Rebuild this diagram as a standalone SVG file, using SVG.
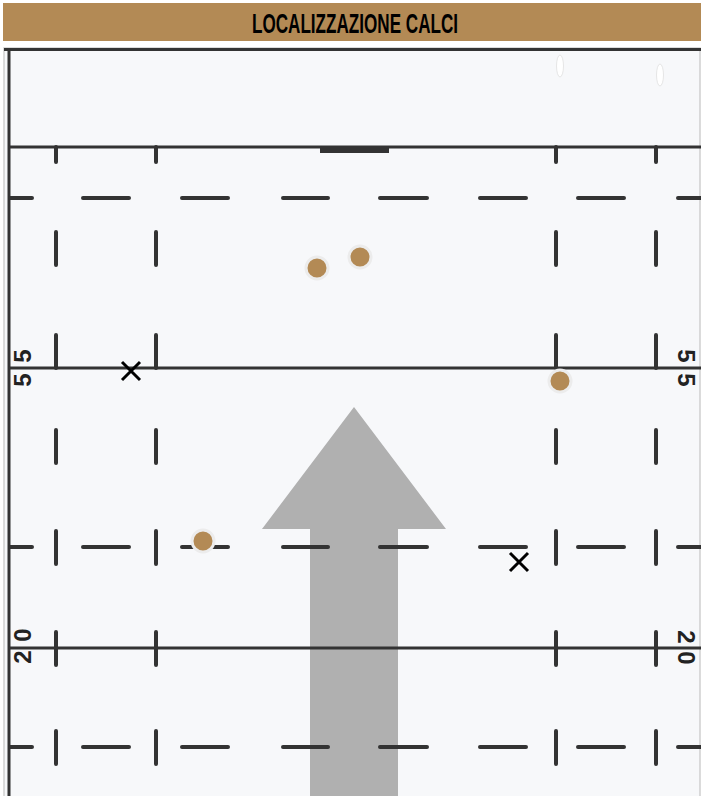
<svg xmlns="http://www.w3.org/2000/svg" width="701" height="796" viewBox="0 0 701 796">
<style>
.line{stroke:#333;stroke-width:3;fill:none}
.dash{stroke:#333;stroke-width:4;stroke-linecap:round;fill:none}
.num{font-family:"Liberation Sans",Arial,sans-serif;font-weight:bold;font-size:24px;fill:#222;text-anchor:middle}
.ball{fill:#b38a55;stroke:#ececec;stroke-width:3}
.miss{stroke:#000;stroke-width:3;stroke-linecap:butt}
</style>
<defs>
<g id="dashrow">
<path class="dash" d="M10 0H32M83 0H129M182 0H228M283 0H328M380 0H427M480 0H526M578 0H624M678 0H701"/>
</g>
<g id="vticks">
<path class="dash" d="M56 0V33M156 0V33M556 0V33M656 0V33"/>
</g>
</defs>
<rect width="701" height="796" fill="#ffffff"/>
<g id="title">
<rect x="3" y="3" width="698" height="38" fill="#b38a55"/>
<text x="355" y="33" text-anchor="middle" font-family="Liberation Sans,Arial,sans-serif" font-weight="bold" font-size="27" textLength="206" lengthAdjust="spacingAndGlyphs" fill="#000">LOCALIZZAZIONE CALCI</text>
</g>
<g id="field">
<rect x="4" y="48" width="696" height="750" fill="#f7f8fa" stroke="#cfcfcf" stroke-width="1.5"/>
<line class="line" x1="4" y1="49.5" x2="701" y2="49.5" stroke-width="3"/>
<line class="line" x1="9" y1="48" x2="9" y2="796"/>
<ellipse cx="560" cy="66" rx="3.5" ry="11" fill="#ffffff" stroke="#e6e6e6" stroke-width="1"/>
<ellipse cx="660" cy="75" rx="3.5" ry="11" fill="#ffffff" stroke="#e6e6e6" stroke-width="1"/>
</g>
<g id="arrow">
<polygon points="354,407 446,529 398,529 398,796 310,796 310,529 262,529" fill="#b0b0b0"/>
</g>
<g id="connectors">
<line class="line" x1="9" y1="147" x2="701" y2="147"/>
<rect x="320" y="147" width="69" height="6" fill="#333"/>
<line class="line" x1="9" y1="368" x2="701" y2="368"/>
<line class="line" x1="9" y1="648" x2="701" y2="648"/>
<path class="dash" d="M56 147V162M156 147V162M556 147V162M656 147V162"/>
<use href="#dashrow" y="198"/>
<use href="#vticks" y="232"/>
<use href="#vticks" y="335"/>
<use href="#vticks" y="430"/>
<use href="#dashrow" y="547"/>
<use href="#vticks" y="531"/>
<use href="#vticks" y="632"/>
<use href="#dashrow" y="747"/>
<use href="#vticks" y="731"/>
</g>
<g id="labels">
<text class="num" transform="translate(31,356) rotate(-90)">5</text>
<text class="num" transform="translate(31,380) rotate(-90)">5</text>
<text class="num" transform="translate(678,356) rotate(90)">5</text>
<text class="num" transform="translate(678,380) rotate(90)">5</text>
<text class="num" transform="translate(31,635) rotate(-90)">0</text>
<text class="num" transform="translate(31,657) rotate(-90)">2</text>
<text class="num" transform="translate(678,637) rotate(90)">2</text>
<text class="num" transform="translate(678,658) rotate(90)">0</text>
</g>
<g id="kick1"><circle class="ball" cx="317" cy="268" r="11"/></g>
<g id="kick2"><circle class="ball" cx="360" cy="257" r="11"/></g>
<g id="kick3"><circle class="ball" cx="560" cy="381" r="11"/></g>
<g id="kick4"><circle class="ball" cx="203" cy="541" r="11"/></g>
<g id="miss1"><path class="miss" d="M122 362L140 380M140 362L122 380"/></g>
<g id="miss2"><path class="miss" d="M510 553L528 571M528 553L510 571"/></g>
</svg>
